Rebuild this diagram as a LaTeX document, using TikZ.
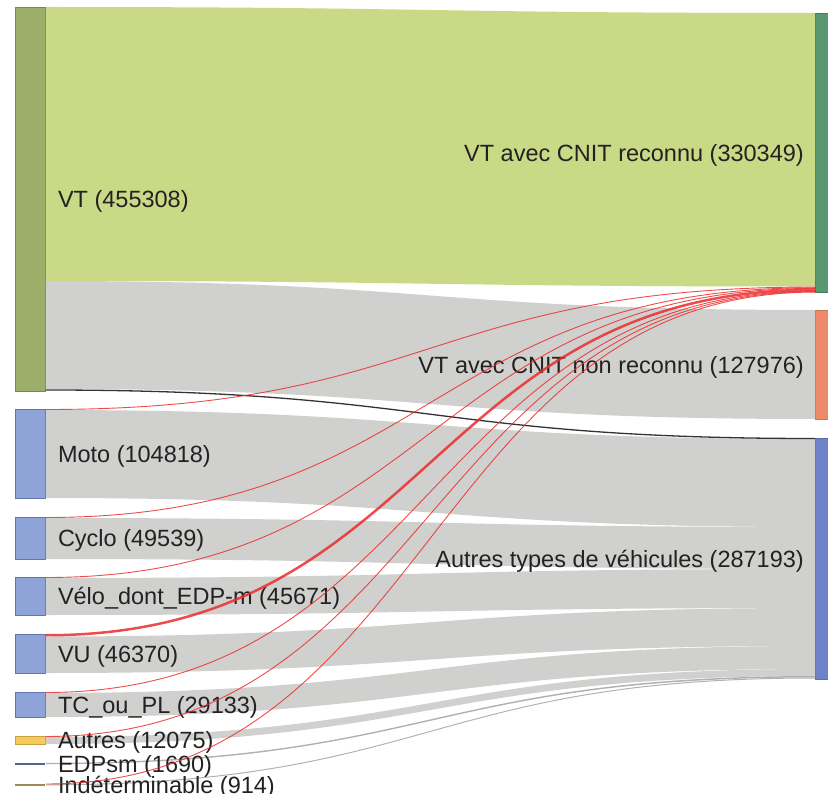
\documentclass[tikz,border=0pt]{standalone}
\usepackage{fontspec}
\setmainfont{Liberation Sans}
\usetikzlibrary{positioning}
\definecolor{vtbar}{RGB}{155,175,106}
\definecolor{vtbarline}{RGB}{118,138,78}
\definecolor{vtflow}{RGB}{201,217,134}
\definecolor{grayflow}{RGB}{208,208,206}
\definecolor{bluebar}{RGB}{142,163,216}
\definecolor{bluebarline}{RGB}{98,118,172}
\definecolor{autresbar}{RGB}{246,202,92}
\definecolor{autresline}{RGB}{200,160,60}
\definecolor{edpcol}{RGB}{88,98,140}
\definecolor{indetcol}{RGB}{158,138,88}
\definecolor{reconnucol}{RGB}{88,152,112}
\definecolor{nonreconnucol}{RGB}{238,138,106}
\definecolor{autrestypescol}{RGB}{110,130,200}
\definecolor{cnitred}{RGB}{235,45,45}
\definecolor{txt}{RGB}{34,34,34}
\tikzstyle{bar} = [draw, inner sep=0pt, minimum width=30pt, anchor=north west, line width=0.8pt]
\tikzstyle{target} = [bar, minimum width=20pt]
\tikzstyle{lbl} = [inner sep=0pt, text=txt, font=\fontsize{23.5}{23.5}\selectfont, text height=17pt, text depth=0pt]
\tikzstyle{redlink} = [draw=cnitred, line width=0.9pt, opacity=0.85]
\newcommand{\band}[7]{\fill[#1] ([yshift=-#3pt]#2.north east) .. controls +(385,0) and +(-385,0) .. ([yshift=-#6pt]#5.north west) -- ([yshift=-#7pt]#5.north west) .. controls +(-385,0) and +(385,0) .. ([yshift=-#4pt]#2.north east) -- cycle;}
\newcommand{\cnit}[4][]{\draw[redlink,#1] ([yshift=-#3pt]#2.north east) .. controls +(385,0) and +(-385,0) .. ([yshift=-#4pt]reconnu.north west);}

\begin{document}
\begin{tikzpicture}[x=1pt,y=-1pt]
\useasboundingbox (0,0) rectangle (828,794);
\clip (0,0) rectangle (828,794);

\node[bar, fill=vtbar, draw=vtbarline, minimum height=384pt] (vt) at (15,7) {};
\node[bar, fill=bluebar, draw=bluebarline, minimum height=89pt] (moto) at (15,409) {};
\node[bar, fill=bluebar, draw=bluebarline, minimum height=42pt] (cyclo) at (15,517) {};
\node[bar, fill=bluebar, draw=bluebarline, minimum height=38pt] (velo) at (15,577) {};
\node[bar, fill=bluebar, draw=bluebarline, minimum height=39pt] (vu) at (15,634) {};
\node[bar, fill=bluebar, draw=bluebarline, minimum height=25pt] (tcpl) at (15,692) {};
\node[bar, fill=autresbar, draw=autresline, minimum height=8pt] (autres) at (15,736) {};
\node[bar, fill=edpcol, draw=none, minimum height=2pt] (edpsm) at (15,762.5) {};
\node[bar, fill=indetcol, draw=none, minimum height=2pt] (indet) at (15,783.5) {};

\node[target, fill=reconnucol, draw=reconnucol!80!black, minimum height=279.5pt] (reconnu) at (815,13) {};
\node[target, fill=nonreconnucol, draw=nonreconnucol!85!black, minimum height=109pt] (nonreconnu) at (815,310) {};
\node[target, fill=autrestypescol, draw=autrestypescol!85!black, minimum height=241pt] (autrestypes) at (815,438) {};

\band{vtflow}{vt}{0}{274}{reconnu}{0}{273.5}
\band{grayflow}{vt}{274}{382}{nonreconnu}{0}{109}
\band{grayflow}{moto}{1}{89}{autrestypes}{1}{89}
\band{grayflow}{cyclo}{1}{42}{autrestypes}{89}{131}
\band{grayflow}{velo}{1}{38}{autrestypes}{131}{170}
\band{grayflow}{vu}{2.5}{39}{autrestypes}{170}{208}
\band{grayflow}{tcpl}{1}{25}{autrestypes}{208}{231}
\band{grayflow}{autres}{1}{8}{autrestypes}{231}{238}
\band{grayflow!85!black}{edpsm}{0.3}{1.7}{autrestypes}{238}{239.5}
\band{grayflow!85!black}{indet}{0.8}{1.8}{autrestypes}{239.5}{240.5}
\draw[black!80, line width=1.3pt] ([yshift=-383pt]vt.north east) .. controls +(385,0) and +(-385,0) .. ([yshift=-0.5pt]autrestypes.north west);

\node[lbl, right=12pt of vt] (vt-lbl) {VT (455308)};
\node[lbl, right=12pt of moto] (moto-lbl) {Moto (104818)};
\node[lbl, right=12pt of cyclo] (cyclo-lbl) {Cyclo (49539)};
\node[lbl, right=12pt of velo] (velo-lbl) {Vélo\_dont\_EDP-m (45671)};
\node[lbl, right=12pt of vu] (vu-lbl) {VU (46370)};
\node[lbl, right=12pt of tcpl] (tcpl-lbl) {TC\_ou\_PL (29133)};
\node[lbl, right=12pt of autres] (autres-lbl) {Autres (12075)};
\node[lbl, right=12pt of edpsm] (edpsm-lbl) {EDPsm (1690)};
\node[lbl, right=12pt of indet] (indet-lbl) {Indéterminable (914)};
\node[lbl, left=11pt of reconnu] (reconnu-lbl) {VT avec CNIT reconnu (330349)};
\node[lbl, left=11pt of nonreconnu] (nonreconnu-lbl) {VT avec CNIT non reconnu (127976)};
\node[lbl, left=11pt of autrestypes] (autrestypes-lbl) {Autres types de véhicules (287193)};

\cnit{moto}{0.5}{274}
\cnit{cyclo}{0.5}{274.7}
\cnit{velo}{0.5}{275.4}
\cnit[line width=2.5pt]{vu}{1.25}{276.8}
\cnit{tcpl}{0.5}{278}
\cnit{autres}{0.5}{278.6}
\cnit{indet}{0.5}{279.1}
\end{tikzpicture}
\end{document}
